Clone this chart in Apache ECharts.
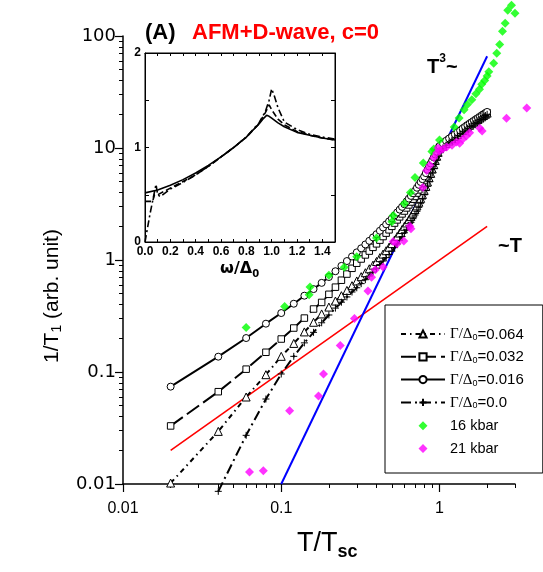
<!DOCTYPE html>
<html><head><meta charset="utf-8">
<script src="https://cdn.jsdelivr.net/npm/echarts@6/dist/echarts.min.js"></script>
<style>html,body{margin:0;padding:0;background:#fff}#c{width:543px;height:572px}</style>
</head><body><div id="c"></div>
<script>
// ---- model curves (T/Tsc grid shared by the four Γ/Δ0 series) ----
const modelT = [
  0.02,0.04,0.06,0.08,0.10,0.12,0.14,0.16,0.18,0.20,
  0.22,0.24,0.26,0.28,0.30,0.32,0.34,0.36,0.38,0.40,
  0.42,0.44,0.46,0.48,0.50,0.52,0.54,0.56,0.58,0.60,
  0.62,0.64,0.66,0.68,0.70,0.72,0.74,0.76,0.78,0.80,
  0.82,0.84,0.86,0.88,0.90,0.92,0.94,0.96,0.98,1.00,
  1.05,1.10,1.15,1.20,1.25,1.30,1.35,1.40,1.45,1.50,
  1.55,1.60,1.65,1.70,1.75,1.80,1.85,1.90,1.95,2.00];
const gamma064 = [
  0.0102,0.0295,0.0598,0.0946,0.138,0.180,0.228,0.278,0.330,0.380,
  0.430,0.480,0.535,0.590,0.650,0.710,0.770,0.835,0.900,0.970,
  1.05,1.13,1.21,1.30,1.40,1.51,1.62,1.74,1.87,2.00,
  2.14,2.29,2.45,2.62,2.82,3.04,3.28,3.55,3.85,4.18,
  4.55,4.97,5.43,5.94,6.50,7.10,7.75,8.45,9.15,9.85,
  10.4,11.0,11.55,12.1,12.65,13.2,13.75,14.3,14.85,15.4,
  15.95,16.5,17.0,17.5,18.0,18.5,19.0,19.5,20.0,20.5];
const gamma032 = [
  0.033,0.0667,0.106,0.150,0.197,0.247,0.303,0.365,0.418,0.494,
  0.572,0.660,0.749,0.843,0.936,1.021,1.110,1.201,1.297,1.394,
  1.505,1.620,1.738,1.860,1.998,2.137,2.281,2.428,2.580,2.737,
  2.917,3.102,3.294,3.492,3.695,3.958,4.231,4.517,4.816,5.124,
  5.527,5.952,6.398,6.867,7.360,7.861,8.383,8.927,9.496,10.10,
  10.7,11.3,11.85,12.4,12.95,13.5,14.05,14.6,15.15,15.7,
  16.2,16.7,17.2,17.7,18.2,18.7,19.2,19.7,20.15,20.6];
const gamma016 = [
  0.074,0.137,0.201,0.270,0.336,0.407,0.480,0.550,0.625,0.705,
  0.794,0.886,0.979,1.074,1.170,1.272,1.377,1.483,1.591,1.700,
  1.824,1.952,2.082,2.214,2.350,2.502,2.658,2.817,2.979,3.146,
  3.337,3.533,3.735,3.941,4.152,4.417,4.691,4.975,5.269,5.570,
  5.969,6.386,6.821,7.274,7.747,8.24,8.75,9.28,9.83,10.41,
  11.0,11.6,12.15,12.7,13.25,13.8,14.35,14.9,15.45,16.0,
  16.5,17.0,17.5,18.0,18.5,19.0,19.5,20.0,20.5,21.0];
const gamma000 = [
  null,0.0086,0.0272,0.0574,0.096,0.138,0.182,0.226,0.275,0.323,
  0.372,0.420,0.468,0.518,0.565,0.615,0.667,0.720,0.780,0.845,
  0.91,0.98,1.05,1.12,1.20,1.29,1.39,1.50,1.62,1.75,
  1.88,2.02,2.17,2.34,2.52,2.72,2.95,3.21,3.50,3.82,
  4.17,4.56,5.00,5.48,6.00,6.55,7.15,7.8,8.5,9.3,
  9.95,10.6,11.15,11.7,12.25,12.8,13.35,13.9,14.45,15.0,
  15.5,16.0,16.5,17.0,17.5,18.0,18.5,19.0,19.5,20.0];

// ---- guide lines ----
const linearT = [0.02, 2.0];
const linearRate = [0.02, 2.0];
const cubicT = [0.1, 2.0];
const cubicRate = [0.01, 66];

// ---- experimental points ----
const kbar16T = [0.06,0.105,0.15,0.152,0.20,0.25,0.30,0.40,0.50,0.51,0.60,0.655,0.70,0.79,0.895,0.92,1.0,1.24,1.33,1.43,1.5,1.6,1.7,1.79,1.85,1.93,2.0,2.05,2.2,2.3,2.4,2.5,2.6,2.7,2.85,3.0];
const kbar16Rate = [0.25,0.385,0.49,0.575,0.73,0.86,1.07,1.57,2.2,2.5,3.2,4.0,5.45,7.35,9.3,9.8,11.8,15.4,18.5,22.0,24.5,27,30.5,33.5,37,40,44,48,57,70,84,110,130,170,188,160];
const kbar21T = [0.063,0.077,0.113,0.172,0.185,0.236,0.29,0.353,0.372,0.393,0.44,0.51,0.54,0.595,0.65,0.66,0.785,0.83,0.87,0.92,0.96,0.98,1.0,1.05,1.11,1.2,1.28,1.34,1.4,1.48,1.55,1.8,1.86,2.65,3.56];
const kbar21Rate = [0.0128,0.0131,0.045,0.061,0.096,0.172,0.30,0.53,0.70,0.82,0.865,1.46,1.40,1.48,2.0,1.9,4.45,6.3,7.0,8.2,9.0,10.0,9.4,9.8,10.2,10.6,11.3,11.0,12.0,12.8,13.7,15.0,14.2,18.4,22.8];

// ---- inset (density of states vs ω/Δ0) ----
const insetSolidW = [0,0.1,0.2,0.3,0.4,0.5,0.6,0.7,0.8,0.85,0.9,0.93,0.96,0.98,1.0,1.05,1.1,1.2,1.3,1.4,1.5];
const insetSolidN = [0.52,0.55,0.60,0.66,0.73,0.81,0.90,1.0,1.11,1.18,1.25,1.30,1.34,1.33,1.31,1.26,1.22,1.16,1.13,1.10,1.08];
const insetDashW = [0,0.06,0.075,0.1,0.2,0.3,0.4,0.5,0.6,0.7,0.8,0.9,0.95,0.98,1.0,1.05,1.1,1.2,1.3,1.4,1.5];
const insetDashN = [0.43,0.43,0.50,0.50,0.57,0.64,0.71,0.80,0.90,1.0,1.11,1.25,1.37,1.45,1.40,1.30,1.24,1.17,1.13,1.10,1.08];
const insetDotW = [0,0.04,0.087,0.1,0.12,0.2,0.3,0.4,0.5,0.6,0.7,0.8,0.9,0.95,0.98,1.0,1.02,1.05,1.1,1.2,1.3,1.4,1.5];
const insetDotN = [0,0.3,0.61,0.5,0.48,0.56,0.63,0.71,0.80,0.90,1.0,1.11,1.26,1.38,1.5,1.62,1.55,1.42,1.27,1.19,1.14,1.11,1.09];

// ---- ticks / labels ----
const xTickLabels = ['0.01','0.1','1'];
const yTickLabels = ['0.01','0.1','1','10','100'];
const xMajorTicks = [0.01,0.1,1];
const xMinorTicks = [0.02,0.03,0.04,0.05,0.06,0.07,0.08,0.09,0.2,0.3,0.4,0.5,0.6,0.7,0.8,0.9,2,3];
const yMajorTicks = [0.01,0.1,1,10,100];
const yMinorTicks = [0.02,0.03,0.04,0.05,0.06,0.07,0.08,0.09,0.2,0.3,0.4,0.5,0.6,0.7,0.8,0.9,2,3,4,5,6,7,8,9,20,30,40,50,60,70,80,90];
const insetXLabels = ['0.0','0.2','0.4','0.6','0.8','1.0','1.2','1.4'];
const insetYLabels = ['0','1','2'];
const legendNames = ['Γ/Δ0=0.064','Γ/Δ0=0.032','Γ/Δ0=0.016','Γ/Δ0=0.0','16 kbar','21 kbar'];

const X_MIN = 0.01, X_MAX = 3, Y_MIN = 0.01, Y_MAX = 100;

function pairs(xs, ys) { const out = []; for (let i = 0; i < xs.length; i++) { if (ys[i] != null) out.push([xs[i], ys[i]]); } return out; }
function logLabel(list) { return v => { for (const s of list) { if (Math.abs(Math.log10(v) - Math.log10(Number(s))) < 1e-6) return s; } return ''; }; }
const lg = v => Math.log10(v);

const chart = echarts.init(document.getElementById('c'), null, { renderer: 'canvas' });
const SANS = 'Liberation Sans';
const blackSym = { color: '#fff', borderColor: '#000', borderWidth: 1 };
// legend diamond drawn in the middle of a 44x9 icon box (corner specks keep the box from being stretched)
const legendDiamond = 'path://M0,0L0.01,0M44,9L43.99,9M22,0L26.5,4.5L22,9L17.5,4.5Z';

function helperAxis(grid, pos, min, max, vals, len) {
  return { type: 'value', gridIndex: grid, position: pos, min: min, max: max,
    axisLine: { show: false, onZero: false }, splitLine: { show: false }, axisLabel: { show: false },
    axisTick: { show: true, length: len, customValues: vals.map(lg), lineStyle: { color: '#000', width: len > 5 ? 1.2 : 1 } } };
}

const option = {
  animation: false,
  backgroundColor: '#fff',
  textStyle: { fontFamily: SANS, color: '#000' },
  grid: [
    { left: 123, top: 36, width: 392, height: 448, outerBoundsMode: 'none', containLabel: false },
    { left: 145, top: 53, width: 190, height: 189, show: true, borderColor: '#000', borderWidth: 1, backgroundColor: '#fff', outerBoundsMode: 'none', containLabel: false }
  ],
  xAxis: [
    { type: 'log', gridIndex: 0, position: 'bottom', min: X_MIN, max: X_MAX, logBase: 10,
      axisLine: { show: true, onZero: false, lineStyle: { color: '#000', width: 1.5 } }, axisTick: { show: false },
      splitLine: { show: false }, minorTick: { show: false },
      axisLabel: { formatter: logLabel(xTickLabels), fontSize: 16, fontFamily: SANS, color: '#000', margin: 17 } },
    helperAxis(0, 'bottom', lg(X_MIN), lg(X_MAX), xMajorTicks, 8),
    helperAxis(0, 'bottom', lg(X_MIN), lg(X_MAX), xMinorTicks, 4),
    { type: 'value', gridIndex: 1, position: 'bottom', min: 0, max: 1.5, interval: 0.1,
      axisLine: { show: true, onZero: false, lineStyle: { color: '#000', width: 1 } }, splitLine: { show: false },
      axisTick: { show: true, inside: true, length: 3, lineStyle: { color: '#000' } },
      axisLabel: { formatter: v => { const k = Math.round(v * 10); return k % 2 === 0 ? insetXLabels[k / 2] : ''; },
        fontSize: 12, fontWeight: 'bold', fontFamily: SANS, color: '#000', margin: 4 } },
    { type: 'value', gridIndex: 1, position: 'top', min: 0, max: 1.5, interval: 0.1,
      axisLine: { show: true, onZero: false, lineStyle: { color: '#000', width: 1 } }, splitLine: { show: false },
      axisTick: { show: true, inside: true, length: 3, lineStyle: { color: '#000' } }, axisLabel: { show: false } }
  ],
  yAxis: [
    { type: 'log', gridIndex: 0, position: 'left', min: Y_MIN, max: Y_MAX, logBase: 10,
      axisLine: { show: true, onZero: false, lineStyle: { color: '#000', width: 1.5 } }, axisTick: { show: false },
      splitLine: { show: false }, minorTick: { show: false },
      axisLabel: { formatter: logLabel(yTickLabels), fontSize: 18, fontFamily: 'DejaVu Sans', color: '#000', margin: 7 } },
    helperAxis(0, 'left', lg(Y_MIN), lg(Y_MAX), yMajorTicks, 8),
    helperAxis(0, 'left', lg(Y_MIN), lg(Y_MAX), yMinorTicks, 4),
    { type: 'value', gridIndex: 1, position: 'left', min: 0, max: 2, interval: 0.5,
      axisLine: { show: true, onZero: false, lineStyle: { color: '#000', width: 1 } }, splitLine: { show: false },
      axisTick: { show: true, inside: true, length: 4, lineStyle: { color: '#000' } },
      axisLabel: { formatter: v => (Math.abs(v - Math.round(v)) < 1e-6 ? insetYLabels[Math.round(v)] : ''),
        fontSize: 12, fontWeight: 'bold', fontFamily: SANS, color: '#000', margin: 4 } },
    { type: 'value', gridIndex: 1, position: 'right', min: 0, max: 2, interval: 0.5,
      axisLine: { show: true, onZero: false, lineStyle: { color: '#000', width: 1 } }, splitLine: { show: false },
      axisTick: { show: true, inside: true, length: 4, lineStyle: { color: '#000' } }, axisLabel: { show: false } }
  ],
  legend: {
    left: 385, top: 305, orient: 'vertical', align: 'left',
    padding: [22, 19, 17, 15], itemGap: 7.8, itemWidth: 44, itemHeight: 9,
    borderColor: '#000', borderWidth: 1, backgroundColor: '#fff', selectedMode: false,
    symbolKeepAspect: true,
    data: legendNames.map(n => (n.indexOf('kbar') > 0 ? { name: n, icon: legendDiamond } : { name: n })),
    formatter: name => {
      if (name.indexOf('Γ') === 0) return '{g|Γ/Δ}{s|0}{n|' + name.slice(4) + '}';
      return '{k|' + name + '}';
    },
    textStyle: { color: '#000', rich: {
      g: { fontFamily: 'Liberation Serif', fontSize: 15, lineHeight: 16, verticalAlign: 'bottom', color: '#000' },
      s: { fontFamily: SANS, fontSize: 9, lineHeight: 6, verticalAlign: 'bottom', color: '#000' },
      n: { fontFamily: SANS, fontSize: 15, lineHeight: 16, verticalAlign: 'bottom', color: '#000' },
      k: { fontFamily: SANS, fontSize: 14.5, lineHeight: 16, color: '#000' }
    } }
  },
  series: [
    { name: 'Γ/Δ0=0.064', type: 'line', xAxisIndex: 0, yAxisIndex: 0, data: pairs(modelT, gamma064), clip: false,
      symbol: 'triangle', symbolSize: 8, itemStyle: blackSym, lineStyle: { color: '#000', width: 2, type: [5, 4, 1.5, 4] } },
    { name: 'Γ/Δ0=0.032', type: 'line', xAxisIndex: 0, yAxisIndex: 0, data: pairs(modelT, gamma032), clip: false,
      symbol: 'rect', symbolSize: 6.5, itemStyle: blackSym, lineStyle: { color: '#000', width: 2, type: [15, 5] } },
    { name: 'Γ/Δ0=0.016', type: 'line', xAxisIndex: 0, yAxisIndex: 0, data: pairs(modelT, gamma016), clip: false,
      symbol: 'circle', symbolSize: 7, itemStyle: blackSym, lineStyle: { color: '#000', width: 2 } },
    { name: 'Γ/Δ0=0.0', type: 'line', xAxisIndex: 0, yAxisIndex: 0, data: pairs(modelT, gamma000), clip: false,
      symbol: 'path://M5,0L5,10M0,5L10,5', symbolSize: 7, itemStyle: blackSym, lineStyle: { color: '#000', width: 2, type: [10, 4, 2, 4] } },
    { name: '~T', type: 'line', xAxisIndex: 0, yAxisIndex: 0, data: pairs(linearT, linearRate), symbol: 'none',
      lineStyle: { color: '#ff0000', width: 1.6 }, z: 1 },
    { name: 'T3', type: 'line', xAxisIndex: 0, yAxisIndex: 0, data: pairs(cubicT, cubicRate), symbol: 'none',
      lineStyle: { color: '#0000ff', width: 2 }, z: 1 },
    { name: '16 kbar', type: 'scatter', xAxisIndex: 0, yAxisIndex: 0, data: pairs(kbar16T, kbar16Rate), clip: false,
      symbol: 'diamond', symbolSize: 9, itemStyle: { color: '#00ff00' }, z: 3 },
    { name: '21 kbar', type: 'scatter', xAxisIndex: 0, yAxisIndex: 0, data: pairs(kbar21T, kbar21Rate), clip: false,
      symbol: 'diamond', symbolSize: 9, itemStyle: { color: '#ff00ff' }, z: 3 },
    { name: 'inset-solid', type: 'line', xAxisIndex: 3, yAxisIndex: 3, data: pairs(insetSolidW, insetSolidN), symbol: 'none',
      lineStyle: { color: '#000', width: 1.6 } },
    { name: 'inset-dash', type: 'line', xAxisIndex: 3, yAxisIndex: 3, data: pairs(insetDashW, insetDashN), symbol: 'none',
      lineStyle: { color: '#000', width: 1.6, type: [6, 3] } },
    { name: 'inset-dashdot', type: 'line', xAxisIndex: 3, yAxisIndex: 3, data: pairs(insetDotW, insetDotN), symbol: 'none',
      lineStyle: { color: '#000', width: 1.6, type: [7, 3, 2, 3] } }
  ],
  graphic: [
    { type: 'text', x: 145, y: 32.5, style: { text: '(A)', fill: '#000', font: 'bold 22px "Liberation Sans"', align: 'left', verticalAlign: 'middle' } },
    { type: 'text', x: 192, y: 32.5, style: { text: 'AFM+D-wave, c=0', fill: '#ff0000', font: 'bold 22px "Liberation Sans"', align: 'left', verticalAlign: 'middle' } },
    { type: 'text', x: 427, y: 52.5, style: { text: '{t|T}{s|3}{t|~}', align: 'left', verticalAlign: 'top', rich: {
      t: { fontFamily: SANS, fontWeight: 'bold', fontSize: 20, height: 30, verticalAlign: 'top', fill: '#000', color: '#000' },
      s: { fontFamily: SANS, fontWeight: 'bold', fontSize: 12, height: 13, verticalAlign: 'top', fill: '#000', color: '#000' } } } },
    { type: 'text', x: 498, y: 246, style: { text: '~T', fill: '#000', font: 'bold 20px "Liberation Sans"', align: 'left', verticalAlign: 'middle' } },
    { type: 'text', x: 297, y: 530, style: { text: '{a|T/T}{b|sc}', align: 'left', verticalAlign: 'top', rich: {
      a: { fontFamily: SANS, fontSize: 27, height: 27, verticalAlign: 'top', fill: '#000', color: '#000' },
      b: { fontFamily: SANS, fontWeight: 'bold', fontSize: 18, height: 45, verticalAlign: 'top', fill: '#000', color: '#000' } } } },
    { type: 'text', x: 57.5, y: 296, rotation: Math.PI / 2, style: { text: '{a|1/T}{b|1}{a| (arb. unit)}', align: 'center', verticalAlign: 'middle', rich: {
      a: { fontFamily: SANS, fontSize: 21, height: 21, verticalAlign: 'top', fill: '#000', color: '#000' },
      b: { fontFamily: SANS, fontSize: 14, height: 31, verticalAlign: 'top', fill: '#000', color: '#000' } } } },
    { type: 'text', x: 220, y: 261, style: { text: '{a|ω/Δ}{b|0}', align: 'left', verticalAlign: 'top', rich: {
      a: { fontFamily: 'DejaVu Sans', fontWeight: 'bold', fontSize: 16, height: 16, verticalAlign: 'top', fill: '#000', color: '#000' },
      b: { fontFamily: 'DejaVu Sans', fontWeight: 'bold', fontSize: 10, height: 26, verticalAlign: 'top', fill: '#000', color: '#000' } } } }
  ]
};
chart.setOption(option);
</script>
</body></html>
